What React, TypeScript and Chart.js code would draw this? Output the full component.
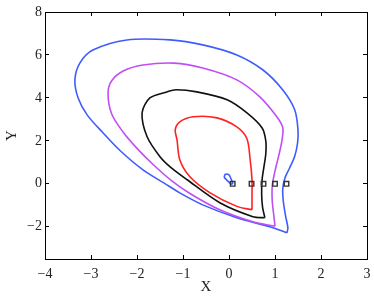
import React, { useEffect, useRef } from "react";
import { Chart, registerables } from "chart.js";

Chart.register(...registerables);

const xTicks = [-4, -3, -2, -1, 0, 1, 2, 3];
const yTicks = [-2, 0, 2, 4, 6, 8];

// Each closed contour starts and ends at its sharp lower-right tip.
const blueX = [1.26, 0.89, 0.17, -0.57, -1.07, -1.40, -1.87, -2.37, -2.75, -3.08, -3.28, -3.35, -3.24, -2.96, -2.22, -1.28, -0.57, 0.17, 0.74, 1.17, 1.43, 1.50, 1.49, 1.43, 1.32, 1.22, 1.17, 1.18, 1.23, 1.28, 1.26];
const blueY = [-2.28, -2.00, -1.58, -0.98, -0.42, 0.02, 0.65, 1.55, 2.40, 3.20, 4.00, 4.84, 5.63, 6.23, 6.70, 6.70, 6.47, 6.00, 5.30, 4.37, 3.44, 2.51, 1.90, 1.30, 0.75, 0.30, -0.20, -0.80, -1.50, -2.05, -2.28];

const magentaX = [1.00, 0.52, -0.20, -0.85, -1.25, -1.65, -2.00, -2.30, -2.55, -2.63, -2.55, -2.30, -1.87, -1.20, -0.57, 0.17, 0.67, 1.04, 1.17, 1.15, 1.08, 1.00, 0.94, 0.94, 0.97, 1.00];
const magentaY = [-1.97, -1.77, -1.21, -0.45, 0.15, 0.90, 1.65, 2.40, 3.25, 4.23, 4.80, 5.25, 5.53, 5.62, 5.39, 4.84, 4.05, 3.12, 2.60, 2.00, 1.30, 0.60, -0.10, -0.80, -1.40, -1.97];

const blackX = [0.78, 0.52, -0.20, -0.91, -1.28, -1.50, -1.78, -1.89, -1.72, -1.35, -1.15, -0.70, -0.04, 0.39, 0.72, 0.80, 0.80, 0.76, 0.72, 0.71, 0.73, 0.78];
const blackY = [-1.58, -1.53, -0.88, 0.19, 0.79, 1.26, 2.19, 3.30, 4.00, 4.28, 4.38, 4.28, 3.91, 3.30, 2.60, 2.00, 1.40, 0.80, 0.20, -0.50, -1.10, -1.58];

const redX = [0.50, 0.17, -0.41, -0.85, -1.07, -1.13, -1.17, -1.07, -0.78, -0.26, 0.17, 0.39, 0.46, 0.50, 0.50, 0.50];
const redY = [-1.21, -1.05, -0.42, 0.33, 1.12, 2.05, 2.51, 2.88, 3.12, 3.07, 2.65, 2.10, 1.12, 0.19, -0.60, -1.21];

const loopX = [0.08, 0.04, -0.05, -0.10, -0.09, -0.06, 0.00, 0.03, 0.07, 0.08];
const loopY = [-0.02, 0.00, 0.18, 0.30, 0.42, 0.46, 0.42, 0.30, 0.10, -0.02];

const markerX = [0.08, 0.49, 0.75, 1.0, 1.25];
const markerY = [0, 0, 0, 0, 0];

const toPts = (xs: number[], ys: number[]) => xs.map((x, i) => ({ x, y: ys[i] }));

const fmt = (v: any) => String(v).replace("-", "\u2212");
const tickFont = { family: "'Liberation Serif', serif", size: 14 };
const titleFont = { family: "'Liberation Serif', serif", size: 15 };
const innerGrid = {
  display: true,
  drawOnChartArea: false,
  drawTicks: true,
  tickLength: -4,
  color: "#000",
  lineWidth: 1,
};
const border = { display: true, color: "#000", width: 1 };

const fixSize = (w: number | null, h: number | null) => (s: any) => {
  if (w !== null) s.width = w;
  if (h !== null) s.height = h;
  s.paddingTop = 0;
  s.paddingBottom = 0;
  s.paddingLeft = 0;
  s.paddingRight = 0;
};

export default function App() {
  const ref = useRef<HTMLCanvasElement | null>(null);
  useEffect(() => {
    document.body.style.margin = "0";
    if (!ref.current) return;
    const line = (xs: number[], ys: number[], color: string) => ({
      data: toPts(xs, ys),
      showLine: true,
      borderColor: color,
      borderWidth: 1.6,
      pointRadius: 0,
      tension: 0.3,
      fill: false,
      xAxisID: "x",
      yAxisID: "y",
    });
    const setX = (s: any) => {
      s.ticks = xTicks.map((v) => ({ value: v }));
    };
    const setY = (s: any) => {
      s.ticks = yTicks.map((v) => ({ value: v }));
    };
    const chart = new Chart(ref.current, {
      type: "scatter",
      data: {
        datasets: [
          {
            data: toPts(markerX, markerY),
            showLine: false,
            pointStyle: "rect",
            pointRadius: 3.2,
            pointBorderColor: "#333",
            pointBackgroundColor: "rgba(0,0,0,0)",
            pointBorderWidth: 1.4,
            xAxisID: "x",
            yAxisID: "y",
          } as any,
          line(loopX, loopY, "#3f5cff"),
          line(redX, redY, "#ff2222"),
          line(blackX, blackY, "#111111"),
          line(magentaX, magentaY, "#c04ef5"),
          line(blueX, blueY, "#3f5cff"),
        ],
      },
      options: {
        animation: false,
        responsive: false,
        devicePixelRatio: 1,
        layout: { padding: { left: 0, right: 7, top: 12, bottom: 0 } },
        plugins: { legend: { display: false }, tooltip: { enabled: false } },
        scales: {
          x: {
            type: "linear",
            position: "bottom",
            min: -4,
            max: 3,
            afterBuildTicks: setX,
            afterFit: fixSize(null, 39),
            grid: innerGrid,
            border,
            ticks: {
              padding: 11,
              color: "#222",
              font: tickFont,
              callback: fmt,
              maxRotation: 0,
            },
            title: {
              display: true,
              text: "X",
              color: "#222",
              font: titleFont,
              padding: { top: 0, bottom: 2 },
            },
          },
          x2: {
            type: "linear",
            position: "top",
            min: -4,
            max: 3,
            afterBuildTicks: setX,
            afterFit: fixSize(null, 0),
            grid: innerGrid,
            border,
            ticks: { display: false },
          },
          y: {
            type: "linear",
            position: "left",
            min: -3.5,
            max: 8,
            afterBuildTicks: setY,
            afterFit: fixSize(45, null),
            grid: innerGrid,
            border,
            ticks: {
              padding: 7,
              color: "#222",
              font: tickFont,
              callback: fmt,
            },
            title: {
              display: true,
              text: "Y",
              color: "#222",
              font: titleFont,
              padding: { top: 3, bottom: 0 },
            },
          },
          y2: {
            type: "linear",
            position: "right",
            min: -3.5,
            max: 8,
            afterBuildTicks: setY,
            afterFit: fixSize(0, null),
            grid: innerGrid,
            border,
            ticks: { display: false },
          },
        },
      } as any,
    });
    return () => chart.destroy();
  }, []);
  return (
    <div style={{ width: 374, height: 298 }}>
      <canvas ref={ref} width={374} height={298} style={{ display: "block" }} />
    </div>
  );
}
